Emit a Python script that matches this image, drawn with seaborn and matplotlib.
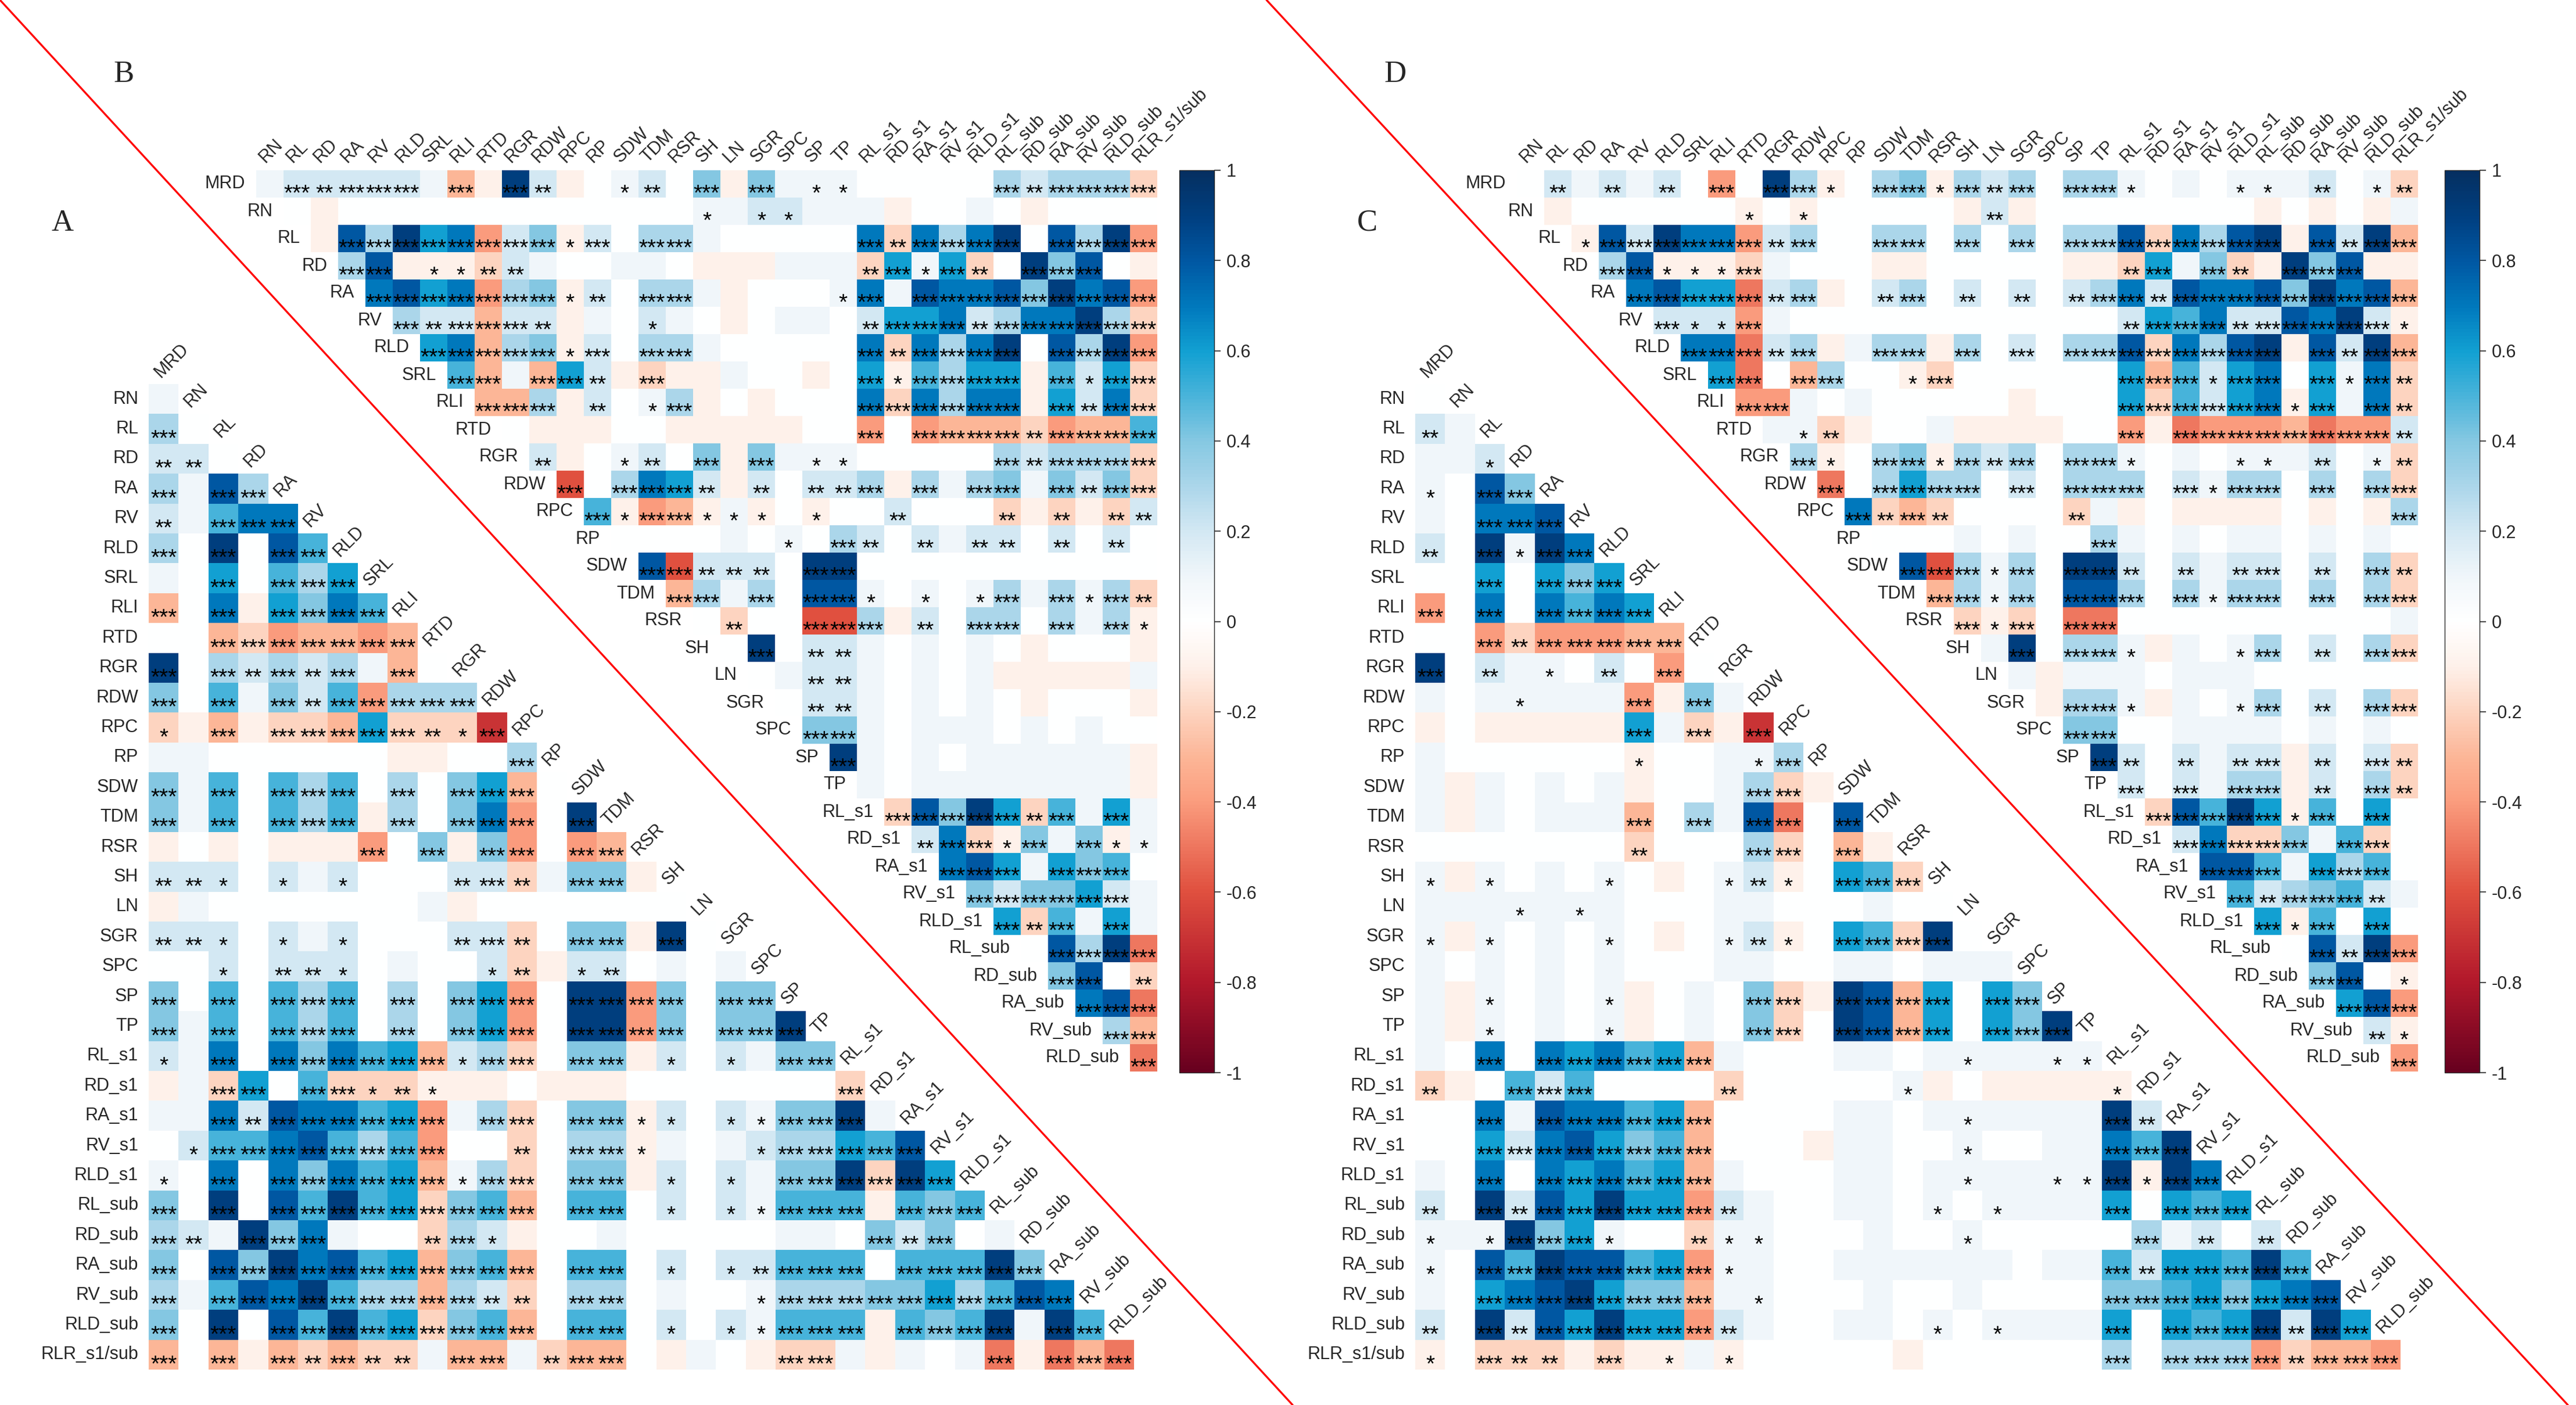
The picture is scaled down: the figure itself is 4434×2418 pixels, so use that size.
import numpy as np
import pandas as pd
import matplotlib
matplotlib.use('Agg')
import matplotlib.pyplot as plt
import seaborn as sns
from matplotlib.colors import LinearSegmentedColormap
from matplotlib.transforms import ScaledTranslation

# variable names, in matrix order
names = ['MRD', 'RN', 'RL', 'RD', 'RA', 'RV', 'RLD', 'SRL', 'RLI', 'RTD', 'RGR', 'RDW',
         'RPC', 'RP', 'SDW', 'TDM', 'RSR', 'SH', 'LN', 'SGR', 'SPC', 'SP', 'TP',
         'RL_s1', 'RD_s1', 'RA_s1', 'RV_s1', 'RLD_s1', 'RL_sub', 'RD_sub', 'RA_sub',
         'RV_sub', 'RLD_sub', 'RLR_s1/sub']
cbar_ticks = [-1, -0.8, -0.6, -0.4, -0.2, 0, 0.2, 0.4, 0.6, 0.8, 1]

# correlations, one string per row
# '0'-'9' -> 0.0..0.9, letters a..j -> -0.1..-1.0 ; spaces are only for reading
# lower triangles (A, C): rows RN..RLR_s1/sub, columns MRD..
a_r = ["1", "30", "220", "3183", "21577", "30908 5", "10605 36", "c07a6 475",
       "00cbd ccdc", "90323 231c0", "40514 25d33 3", "bacab bc6bb bg",
       "11000 000aa 003", "41505 35030 46c0", "41505 35a30 47d09",
       "a0a0a aad04 a4d0d c", "22202 12000 22b14 4a", "a1000 00001 a0000 000",
       "22202 12000 22b04 4a90", "00202 22010 02ba2 20101",
       "40505 35030 46d09 9d404 4", "41505 35030 46d09 9d404 49",
       "21707 4756c 23b04 4a202 144", "a1b60 5bbba aa0aa a0000 000b",
       "11728 7756d 13b04 4a202 14491", "02557 8535d 00b03 3a101 23365 8",
       "10707 4756c 13b04 4a202 1449b 96", "40908 5956b 45c05 50202 1555a 545",
       "32194 7100b 32a00 10000 01104 2401", "40849 7856c 45c05 50202 25550 55594",
       "31587 9533c 32b03 30100 13334 46358 7",
       "40908 5956b 45c05 50202 1555a 54591 95",
       "c0cac bcbb1 cc1bc c0a10 abb1a 101ea ece"]
a_p = ["0", "30", "220", "3033", "20333", "30303 3", "00303 33", "30303 333",
       "00333 3333", "30323 23030", "30303 23333 3", "10303 33332 13",
       "00000 00000 003", "30303 33030 3330", "30303 33030 33303",
       "00000 00303 03303 3", "22101 01000 23203 30", "00000 00000 00000 000",
       "22101 01000 23203 3030", "00102 21000 01201 20000",
       "30303 33030 33303 33303 3", "30303 33030 33303 33303 33",
       "10303 33333 13303 30101 033", "00330 33121 00000 00000 0003",
       "00323 33333 03303 31101 13330", "01333 33333 00203 31000 13333 3",
       "10303 33333 13303 30101 03333 33", "30303 33333 33303 30101 13330 333",
       "32033 30002 31000 00000 00003 2300", "30333 33333 33303 30101 23330 33333",
       "30333 33333 32203 30000 13333 33333 3",
       "30303 33333 33303 30101 13330 33330 33",
       "30303 23220 33023 30000 03300 00030 333"]

c_r = ["0", "21", "112", "1084", "10778", "20919 7", "00606 46", "d0707 576",
       "00dbd ddcc", "90211 020d0", "10111 11da4 1", "a0aaa aa61b ag",
       "10000 00a00 113", "1a101 01a00 13ba", "1a101 11c03 18e08",
       "00000 00b00 03b0c a", "1a101 010a0 12a06 5b", "11111 11000 11000 100",
       "1a101 010a0 12a06 5b90", "10101 01000 11001 10111",
       "1a101 01a01 04ba9 8c606 4", "1a101 01a01 04b09 8c606 49",
       "10707 6756c 10001 10111 111", "ba052 50000 b0000 01a0a aaaa",
       "00718 7756c 00001 10111 11192", "00627 8645c 000a1 10010 01175 9",
       "10707 6756c 10001 10111 1119a 97", "20928 6966d 21001 10101 11160 656",
       "11194 6100b 11000 10010 00003 1202", "10859 8856d 11001 11111 01152 66595",
       "10678 9644c 11000 10010 00044 56467 8",
       "20928 6966d 21001 10101 11160 65692 96",
       "a0bbb abaa1 a0000 0a000 00030 333db ccd"]
c_p = ["0", "20", "001", "1033", "00333", "20313 3", "00303 33", "30303 333",
       "00323 3333", "30201 02030", "00010 00303 0", "00000 00303 03",
       "00000 00100 013", "00000 00000 0330", "00000 00303 03303",
       "00000 00200 03303 0", "10100 01000 12103 33", "00010 10000 00000 000",
       "10100 01000 12103 3330", "00000 00000 00000 00000",
       "00100 01000 03303 33303 3", "00100 01000 03303 33303 33",
       "00303 33333 00000 00010 011", "20033 30000 20000 01000 0001",
       "00303 33333 00000 00010 00032", "00333 33333 00000 00010 00033 3",
       "00303 33333 00000 00010 01131 33", "20323 33333 20000 00101 00030 333",
       "10133 31002 11000 00010 00003 0202", "10333 33333 10000 00000 00032 33333",
       "00333 33333 01000 00000 00033 33333 3",
       "20323 33333 20000 00101 00030 33332 33",
       "10322 03010 10000 00000 00030 33332 333"]

# upper triangles (B, D): rows MRD..RLD_sub, columns from the diagonal to RLR_s1/sub
b_r = ["12222 21ca9 2a012 04a41 11000 00323 33b",
       "0a000 00000 00000 11221 11a00 10a00 00",
       "a8396 7d24a 20331 00000 7b737 90839 d",
       "38aaa b2100 110aa a111b 616b0 9480a",
       "7867d 34a20 331a0 00171 87784 978d",
       "322c2 2a102 10a01 10266 72377 93b",
       "67c34 a2033 10000 07b73 79083 9d",
       "5c1c6 2abaa 100a0 6a536 6a526 b",
       "cc3a2 013a0 a0007 b7377 a627b",
       "0aaa0 0aaaa a00d0 dcccb dcc5",
       "2a012 04a41 11000 00323 33b",
       "f0376 2a202 23a31 34142 4b",
       "5adca 1a0a0 02000 babab 2",
       "00001 01032 02122 02020",
       "8f222 09900 00000 0000",
       "c3130 88101 01313 13b",
       "0b00f f3a20 33031 3a",
       "09022 10101 0a000 a", "01221 0101a aaaa1", "02210 1010a 000a",
       "44101 11010 100", "91010 11111 1a", "10111 11111 a", "b8496 b5161",
       "27ba4 14a1", "78616 450", "42446 21", "6b516 1", "0839e", "480b",
       "78e", "3c", "e"]
b_p = ["03233 30303 20012 03030 11000 00323 333",
       "00000 00000 00000 10110 00000 00000 00",
       "03333 33331 30330 00000 32333 30333 3",
       "33011 22000 00000 00002 31320 33300",
       "33333 33120 33000 00130 33333 3333",
       "32333 20001 00000 00233 32333 333",
       "33333 13033 00000 03233 33033 33",
       "33033 20300 00000 31333 30313 3",
       "33302 01300 00003 33333 03233",
       "00000 00000 00030 33332 3333",
       "20012 03030 11000 00323 333",
       "30333 20202 23030 33032 33",
       "31331 11010 02000 20202 2",
       "00000 01032 02022 02020",
       "33222 03300 00000 0000",
       "33030 33101 01303 132",
       "02003 33020 33030 31",
       "03022 00000 00000 0", "00220 00000 00000", "02200 00000 0000",
       "33000 00000 000", "30000 00000 00", "00000 00000 0", "33333 23030",
       "23313 0311", "33303 330", "33333 30", "32303 0", "03333", "3302",
       "333", "33", "3"]

d_r = ["02121 20d09 3a034 a3230 33101 01112 01b",
       "a0000 00a0a 00000 a2a00 00000 0a0a0 a1",
       "a8297 7d230 03303 03033 8b738 9a829 c",
       "38aaa b1000 aa000 00aab 614ba 948aa",
       "7866e 23a02 30202 02372 87784 978c",
       "222d1 00000 00000 00265 72287 92a",
       "77e23 a133a 30203 38b73 89a82 9c",
       "6e0c3 00ab0 00000 6c526 70617 b",
       "dd101 00000 a0006 b5267 a617b",
       "11ba0 01aaa a00da edddc edd2",
       "3a034 a3230 33101 01112 01b",
       "e0363 30203 33021 33030 3b",
       "7bcb0 000b1 a0aaa a0a0a 3",
       "00010 10031 01011 01010",
       "8f313 09920 21220 203b",
       "c3130 88303 13303 03b",
       "bab0e e0000 00000 01",
       "19033 1a101 30203 b", "1a111 01110 00000", "a331a 10130 203b",
       "44001 11101 010", "92021 22a20 2b", "20213 3a203 b", "b8596 a5060",
       "27bb4 15b0", "88516 350", "52345 21", "6a506 0", "0829d", "480a",
       "68d", "2a", "d"]
d_p = ["02020 20303 31033 13230 33100 01102 012",
       "00000 00101 00000 02000 00000 00000 00",
       "13333 33230 03303 03033 33333 30323 3",
       "33111 30000 00000 00002 30320 33300",
       "33333 23002 30202 02332 33333 3333",
       "31130 00000 00000 00233 32333 331",
       "33323 00330 30303 33333 33032 33",
       "33033 00130 00000 33313 30313 2",
       "33000 00000 00003 33333 13032",
       "01200 00000 00030 33333 3332",
       "31033 13230 33100 01102 012",
       "30333 30303 33031 33030 33",
       "32320 00020 00000 00000 3",
       "00000 00030 00000 00000",
       "33313 03320 20230 2032",
       "33130 33303 13303 033",
       "31303 30000 00000 00",
       "03033 10001 30203 3", "00000 00000 00000", "03310 00130 2033",
       "33000 00000 000", "32020 23020 32", "30303 30203 2", "33333 13030",
       "33333 0330", "33303 330", "32333 20", "31303 0", "03233", "3301",
       "333", "21", "3"]

N = 33


def decode(ch):
    if ch.isdigit():
        return int(ch) / 10
    return -(ord(ch) - 96) / 10


def build(r_rows, p_rows, lower):
    vals = np.full((N, N), np.nan)
    stars = np.full((N, N), '', dtype=object)
    for i, (rs, ps) in enumerate(zip(r_rows, p_rows)):
        rs = rs.replace(' ', '')
        ps = ps.replace(' ', '')
        n = i + 1 if lower else N - i
        start = 0 if lower else i
        if len(rs) != n or len(ps) != n:
            print('row length mismatch', lower, i, len(rs), len(ps), n)
        for k in range(min(n, len(rs))):
            vals[i, start + k] = decode(rs[k])
            if k < len(ps):
                stars[i, start + k] = '*' * int(ps[k])
    return vals, stars


cmap = LinearSegmentedColormap.from_list('corr', [
    (0.00, '#67001f'), (0.10, '#b2182b'), (0.20, '#e0503f'), (0.30, '#fb9d7e'),
    (0.35, '#fcb698'), (0.40, '#fdd4c0'), (0.45, '#fef1ea'), (0.50, '#ffffff'),
    (0.55, '#f0f6fa'), (0.60, '#d3e8f3'), (0.65, '#acd6ea'), (0.70, '#86c8e2'),
    (0.75, '#4ab4da'), (0.80, '#12a0d2'), (0.85, '#0079bd'), (0.90, '#0058a3'),
    (0.95, '#003f80'), (1.00, '#052f61')])

sns.set_style('white')
plt.rcParams['font.family'] = ['Liberation Sans', 'DejaVu Sans']

W, H, DPI = 4434, 2418, 200
fig = plt.figure(figsize=(W / DPI, H / DPI), dpi=DPI)


def px_axes(x0, y0, x1, y1):
    ax = fig.add_axes([x0 / W, 1 - y1 / H, (x1 - x0) / W, (y1 - y0) / H])
    ax.set_facecolor('none')
    return ax


def draw_panel(box, r_rows, p_rows, lower):
    ax = px_axes(*box)
    vals, stars = build(r_rows, p_rows, lower)
    off = ScaledTranslation(0, -0.14, fig.dpi_scale_trans)
    sns.heatmap(pd.DataFrame(vals), mask=np.isnan(vals), cmap=cmap, vmin=-1, vmax=1,
                cbar=False, annot=stars, fmt='', linewidths=0,
                xticklabels=False, yticklabels=False, ax=ax,
                annot_kws=dict(color='black', fontsize=14, va='baseline',
                               transform=ax.transData + off))
    if lower:
        for i in range(N):
            ax.text(-0.35, i + 0.5, names[i + 1], ha='right', va='center', fontsize=11)
            ax.text(i + 0.4, i - 0.2, names[i], rotation=45, rotation_mode='anchor',
                    ha='left', va='baseline', fontsize=11)
    else:
        for i in range(N):
            ax.text(i - 0.4, i + 0.5, names[i], ha='right', va='center', fontsize=11)
            ax.text(i + 0.33, -0.25, names[i + 1], rotation=45, rotation_mode='anchor',
                    ha='left', va='baseline', fontsize=11)
    return ax


axA = draw_panel((256, 661, 1952, 2357), a_r, a_p, True)
axB = draw_panel((441, 293, 1992, 1844), b_r, b_p, False)
axC = draw_panel((2436, 661, 4132, 2357), c_r, c_p, True)
axD = draw_panel((2611, 293, 4162, 1844), d_r, d_p, False)

for ax_src, box in [(axB, (2030, 293, 2090, 1846)), (axD, (4208, 293, 4268, 1846))]:
    cax = px_axes(*box)
    cb = fig.colorbar(ax_src.collections[0], cax=cax, ticks=cbar_ticks)
    cb.ax.set_yticklabels([f'{t:g}' for t in cbar_ticks])
    cb.ax.tick_params(labelsize=11, length=4, width=0.6)
    cb.outline.set_linewidth(0.5)

for x0, x1 in [(0, 2225), (2180, 4420)]:
    fig.add_artist(plt.Line2D([x0 / W, x1 / W], [1, 0], transform=fig.transFigure,
                              color='red', lw=1.2, zorder=10))

for letter, x, y in [('B', 213, 128), ('A', 108, 384), ('D', 2401, 128), ('C', 2353, 384)]:
    fig.text(x / W, 1 - y / H, letter, ha='center', va='center', fontsize=19,
             family='Liberation Serif')

fig.savefig('out.png', dpi=DPI)
